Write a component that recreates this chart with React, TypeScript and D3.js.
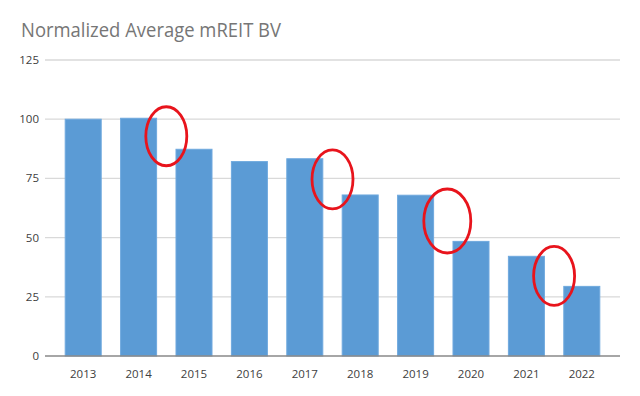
import React from "react";
import * as d3 from "d3";

const years = ["2013", "2014", "2015", "2016", "2017", "2018", "2019", "2020", "2021", "2022"];
const values = [100, 100.4, 87.3, 82.1, 83.3, 68, 67.9, 48.4, 42.1, 29.4];
const yTicks = [0, 25, 50, 75, 100, 125];
const title = "Normalized Average mREIT BV";
// annotation ellipses: placed between two categories (index of left bar), centre value
const markLeft = [1, 4, 6, 8];
const markValue = [92.8, 74.6, 57, 33.8];

const W = 640;
const H = 396;

export default function App() {
  const x = d3.scaleBand<string>().domain(years).range([55.5, 609.5]).paddingInner(0.35).paddingOuter(0.175);
  const y = d3.scaleLinear().domain([0, 125]).range([356, 60]);
  const gridL = 45;
  const gridR = 620;
  const step = x.step();

  return (
    <svg width={W} height={H} style={{ position: "absolute", left: 0, top: 0, background: "#fff" }}>
      <rect x={0} y={0} width={W} height={H} fill="#fff" />
      <text
        x={21}
        y={37}
        fontFamily="'Open Sans', 'Noto Sans', sans-serif"
        fontSize={19.5}
        textLength={260}
        lengthAdjust="spacingAndGlyphs"
        fill="#767676"
      >
        {title}
      </text>
      {yTicks.map((t) => (
        <g key={t}>
          {t > 0 && <line x1={gridL} x2={gridR} y1={y(t)} y2={y(t)} stroke="#d9d9d9" strokeWidth={1.3} />}
          <text x={39} y={y(t)} dy="0.35em" textAnchor="end" fontFamily="'Open Sans', 'Noto Sans', sans-serif" fontSize={11.5} fill="#404040">
            {t}
          </text>
        </g>
      ))}
      {years.map((yr, i) => (
        <rect
          key={yr}
          x={x(yr)!}
          y={y(values[i])}
          width={x.bandwidth()}
          height={y(0) - y(values[i])}
          fill="#5b9bd5"
          stroke="#6fa9de"
          strokeWidth={1}
        />
      ))}
      <line x1={gridL} x2={gridR} y1={y(0)} y2={y(0)} stroke="#898989" strokeWidth={1.6} />
      {years.map((yr) => (
        <text
          key={yr}
          x={x(yr)! + x.bandwidth() / 2}
          y={374}
          dy="0.35em"
          textAnchor="middle"
          fontFamily="'Open Sans', 'Noto Sans', sans-serif"
          fontSize={11.5}
          fill="#404040"
        >
          {yr}
        </text>
      ))}
      {markLeft.map((li, k) => (
        <ellipse
          key={k}
          cx={x(years[li])! + x.bandwidth() / 2 + step / 2 + (k === 2 ? 4 : 0)}
          cy={y(markValue[k])}
          rx={k === 2 ? 23.5 : 20.5}
          ry={k === 2 ? 32 : 29.5}
          fill="none"
          stroke="#e8141c"
          strokeWidth={2.8}
        />
      ))}
    </svg>
  );
}
